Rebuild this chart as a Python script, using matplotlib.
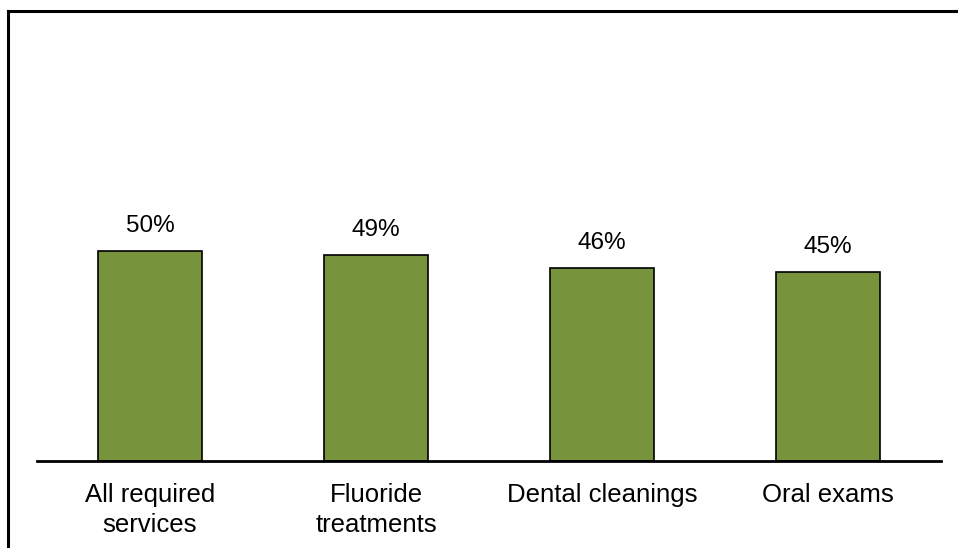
import matplotlib
matplotlib.use("Agg")
import matplotlib.pyplot as plt
from matplotlib.lines import Line2D

categories = ["All required\nservices", "Fluoride\ntreatments", "Dental cleanings", "Oral exams"]
values = [50, 49, 46, 45]
labels = ["50%", "49%", "46%", "45%"]

plt.rcParams['font.family'] = ['Liberation Sans', 'DejaVu Sans']

W, H = 958, 548
fig = plt.figure(figsize=(W/100, H/100), dpi=100)
ax = fig.add_axes([37/W, 1-461/H, (941-37)/W, 420/H])

x = range(len(values))
ax.bar(x, values, width=0.46, color="#77933C", edgecolor="black", linewidth=1.2, zorder=2)
for xi, v, l in zip(x, values, labels):
    ax.annotate(l, (xi, v), xytext=(0, 10), textcoords="offset points",
                ha="center", va="bottom", fontsize=17.5)

ax.set_xlim(-0.5, 3.5)
ax.set_ylim(0, 100)
ax.set_xticks(list(x))
ax.set_xticklabels(categories, fontsize=18.5, linespacing=1.3)
ax.tick_params(axis="x", length=0, pad=16)
ax.set_yticks([])
for s in ["top", "right", "left"]:
    ax.spines[s].set_visible(False)
ax.spines["bottom"].set_linewidth(2)
ax.spines["bottom"].set_zorder(3)

# cropped frame: top and left border
fig.add_artist(Line2D([7.5/W, 1], [1-10.5/H, 1-10.5/H], transform=fig.transFigure, color="black", lw=2.2))
fig.add_artist(Line2D([7.5/W, 7.5/W], [0, 1-10.5/H], transform=fig.transFigure, color="black", lw=2.2))

fig.savefig("out.png", dpi=100)
